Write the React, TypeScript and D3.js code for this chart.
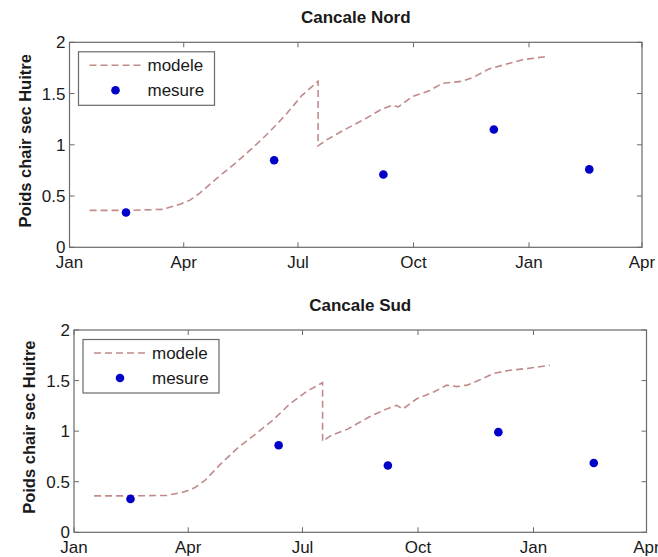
import React from "react";
import * as d3 from "d3";

const modelDates = ["2000-01-17","2000-02-15","2000-03-15","2000-03-29","2000-04-06","2000-04-14","2000-04-28","2000-05-11","2000-05-25","2000-06-07","2000-06-21","2000-07-04","2000-07-17","2000-07-17","2000-07-24","2000-08-06","2000-08-23","2000-09-06","2000-09-14","2000-09-19","2000-09-30","2000-10-14","2000-10-24","2000-11-01","2000-11-09","2000-11-18","2000-11-30","2000-12-12","2000-12-27","2001-01-14"];
const modelNord = [0.36,0.36,0.37,0.42,0.46,0.53,0.68,0.81,0.96,1.11,1.29,1.48,1.62,0.99,1.05,1.14,1.25,1.35,1.385,1.37,1.47,1.53,1.60,1.61,1.62,1.66,1.74,1.78,1.83,1.86];
const modelSud = [0.36,0.36,0.365,0.40,0.44,0.51,0.69,0.84,0.975,1.105,1.27,1.39,1.48,0.90,0.96,1.02,1.14,1.22,1.255,1.22,1.32,1.39,1.455,1.44,1.455,1.50,1.57,1.60,1.62,1.65];

const measureDates = ["2000-02-15","2000-06-12","2000-09-07","2000-12-04","2001-02-18"];
const measureNord = [0.34,0.85,0.71,1.15,0.76];
const measureSud = [0.33,0.86,0.66,0.99,0.685];

const yTicks = [0, 0.5, 1, 1.5, 2];
const yTickLabels = ["0", "0.5", "1", "1.5", "2"];
const xDomain = ["2000-01-01", "2001-04-01"];

const titles = ["Cancale Nord", "Cancale Sud"];
const yLabel = "Poids chair sec Huitre";
const legendLabels = ["modele", "mesure"];

const parse = d3.timeParse("%Y-%m-%d");

const LINE_COLOR = "#c08a8a";
const DOT_COLOR = "#0000c8";
const AXIS_COLOR = "#6a6a6a";
const TEXT_COLOR = "#1a1a1a";
const FONT = "Liberation Sans, Arial, sans-serif";

type PanelProps = {
  left: number; top: number; width: number; height: number;
  title: string; model: number[]; measure: number[];
};

function Panel({ left, top, width, height, title, model, measure }: PanelProps) {
  const x = d3.scaleTime().domain(xDomain.map((s) => parse(s) as Date)).range([0, width]);
  const y = d3.scaleLinear().domain([0, 2]).range([height, 0]);
  const xTicks = d3.timeMonth.every(3)!.range(x.domain()[0], d3.timeDay.offset(x.domain()[1], 1));
  const fmt = d3.timeFormat("%b");
  const line = d3.line<[Date, number]>().x((d) => x(d[0])).y((d) => y(d[1]));
  const modelPts: [Date, number][] = modelDates.map((s, i) => [parse(s) as Date, model[i]]);
  const tl = 5;
  return (
    <g transform={`translate(${left},${top})`}>
      <text x={width / 2} y={-19.5} textAnchor="middle" fontFamily={FONT} fontWeight="bold" fontSize={17} fill={TEXT_COLOR}>{title}</text>
      <rect x={0} y={0} width={width} height={height} fill="white" stroke="none" />
      <path d={line(modelPts) || ""} fill="none" stroke={LINE_COLOR} strokeWidth={1.6} strokeDasharray="7,4" />
      {measureDates.map((s, i) => (
        <circle key={i} cx={x(parse(s) as Date)} cy={y(measure[i])} r={4.3} fill={DOT_COLOR} />
      ))}
      <rect x={0} y={0} width={width} height={height} fill="none" stroke={AXIS_COLOR} strokeWidth={1.2} />
      {xTicks.map((t, i) => (
        <g key={i}>
          <line x1={x(t)} x2={x(t)} y1={height} y2={height - tl} stroke={AXIS_COLOR} />
          <line x1={x(t)} x2={x(t)} y1={0} y2={tl} stroke={AXIS_COLOR} />
          <text x={x(t)} y={height + 21} textAnchor="middle" fontFamily={FONT} fontSize={17} fill={TEXT_COLOR}>{fmt(t)}</text>
        </g>
      ))}
      {yTicks.map((v, i) => (
        <g key={i}>
          <line x1={0} x2={tl} y1={y(v)} y2={y(v)} stroke={AXIS_COLOR} />
          <line x1={width} x2={width - tl} y1={y(v)} y2={y(v)} stroke={AXIS_COLOR} />
          <text x={-4} y={y(v)} dy="0.36em" textAnchor="end" fontFamily={FONT} fontSize={17} fill={TEXT_COLOR}>{yTickLabels[i]}</text>
        </g>
      ))}
      <text transform={`translate(${-39},${height / 2 - 4}) rotate(-90)`} textAnchor="middle" fontFamily={FONT} fontWeight="bold" fontSize={16.5} fill={TEXT_COLOR}>{yLabel}</text>
      <g transform="translate(9,9.5)">
        <rect x={0} y={0} width={136} height={53.5} fill="white" stroke={AXIS_COLOR} strokeWidth={1.2} />
        <line x1={11} x2={63} y1={13.5} y2={13.5} stroke={LINE_COLOR} strokeWidth={1.6} strokeDasharray="7,4" />
        <text x={69} y={13.5} dy="0.36em" fontFamily={FONT} fontSize={17} fill={TEXT_COLOR}>{legendLabels[0]}</text>
        <circle cx={37} cy={38.5} r={4.3} fill={DOT_COLOR} />
        <text x={69} y={38.5} dy="0.36em" fontFamily={FONT} fontSize={17} fill={TEXT_COLOR}>{legendLabels[1]}</text>
      </g>
    </g>
  );
}

export default function App() {
  return (
    <svg width={658} height={557} style={{ position: "absolute", left: 0, top: 0, background: "white" }}>
      <rect x={0} y={0} width={658} height={557} fill="white" />
      <Panel left={69.5} top={42.3} width={572.5} height={205} title={titles[0]} model={modelNord} measure={measureNord} />
      <Panel left={74} top={330} width={572.5} height={202.3} title={titles[1]} model={modelSud} measure={measureSud} />
    </svg>
  );
}
